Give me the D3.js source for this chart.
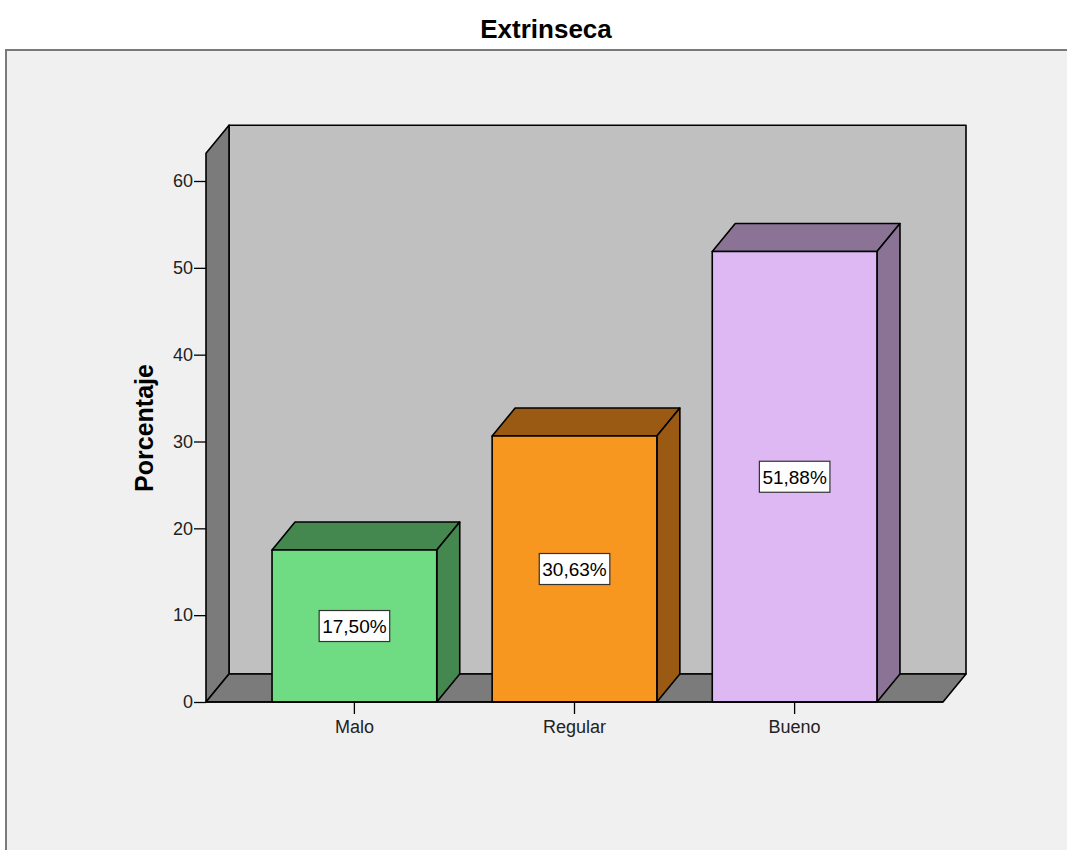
<!DOCTYPE html>
<html>
<head>
<meta charset="utf-8">
<script src="https://cdn.jsdelivr.net/npm/d3@7"></script>
<style>
  html, body { margin: 0; padding: 0; background: #ffffff; }
  svg { display: block; font-family: Arial, "Liberation Sans", sans-serif; }
</style>
</head>
<body>
<svg id="chart" width="1067" height="850"></svg>
<script>
// Chart data
const categories = ["Malo", "Regular", "Bueno"];
const values = [17.50, 30.63, 51.88];
const valueLabels = ["17,50%", "30,63%", "51,88%"];
const yTicks = [0, 10, 20, 30, 40, 50, 60];
const wallTop = 63.2;           // top of the 3D walls in axis units
const frontColors = ["#6fdc84", "#f7971f", "#ddb8f2"];
const sideColors = ["#44874f", "#9b5a13", "#8a7395"];

const FONT = 'Arial, "Liberation Sans", sans-serif';
const svg = d3.select("#chart");

// Outer panel
svg.append("rect").attr("x", 0).attr("y", 0).attr("width", 1067).attr("height", 850).attr("fill", "#ffffff");
svg.append("rect").attr("x", 6).attr("y", 50).attr("width", 1080).attr("height", 820)
  .attr("fill", "#f0f0f0").attr("stroke", "#7a7a7a").attr("stroke-width", 2);

// Title
svg.append("text").attr("x", 546).attr("y", 38).attr("text-anchor", "middle")
  .attr("font-size", 26).attr("font-weight", "bold").attr("fill", "#000").text("Extrinseca");

// Scales
const y = d3.scaleLinear().domain([0, 60]).range([702, 181]);
const x = d3.scaleBand().domain(categories).range([206, 943]).paddingInner(0.2517).paddingOuter(0.30);
const DX = 23, DY = -28;   // depth offset of the 3D projection

const x0 = x.range()[0], x1 = x.range()[1];
const y0 = y(0), yW = y(wallTop);

const line = d3.line();
function poly(points, fill) {
  return svg.append("path").attr("d", line(points) + "Z").attr("fill", fill)
    .attr("stroke", "#000").attr("stroke-width", 1.6).attr("stroke-linejoin", "round");
}

// Back wall
poly([[x0 + DX, y0 + DY], [x1 + DX, y0 + DY], [x1 + DX, yW + DY], [x0 + DX, yW + DY]], "#c0c0c0");
// Left wall
poly([[x0, y0], [x0, yW], [x0 + DX, yW + DY], [x0 + DX, y0 + DY]], "#7b7b7b");
// Floor
poly([[x0, y0], [x1, y0], [x1 + DX, y0 + DY], [x0 + DX, y0 + DY]], "#7b7b7b");

// Y axis ticks and labels
const yAxis = d3.axisLeft(y).tickValues(yTicks).tickSize(12).tickPadding(1).tickFormat(d3.format("d"));
const gY = svg.append("g").attr("transform", `translate(${x0},0)`).call(yAxis);
gY.select(".domain").remove();
gY.selectAll(".tick line").attr("stroke", "#000").attr("stroke-width", 1.3);
gY.selectAll(".tick text").attr("font-size", 18).attr("fill", "#222").attr("font-family", FONT);

// Y axis title
svg.append("text").attr("transform", "translate(153,428) rotate(-90)")
  .attr("text-anchor", "middle").attr("font-size", 25).attr("font-weight", "bold")
  .attr("fill", "#000").text("Porcentaje");

// Bars (3D boxes)
categories.forEach((c, i) => {
  const bx0 = x(c), bx1 = x(c) + x.bandwidth();
  const yt = y(values[i]);
  // top face
  poly([[bx0, yt], [bx1, yt], [bx1 + DX, yt + DY], [bx0 + DX, yt + DY]], sideColors[i]);
  // right side face
  poly([[bx1, y0], [bx1, yt], [bx1 + DX, yt + DY], [bx1 + DX, y0 + DY]], sideColors[i]);
  // front face
  poly([[bx0, y0], [bx1, y0], [bx1, yt], [bx0, yt]], frontColors[i]);

  // value label box
  const cx = (bx0 + bx1) / 2, cy = (yt + y0) / 2;
  const t = svg.append("text").attr("x", cx).attr("y", cy + 7).attr("text-anchor", "middle")
    .attr("font-size", 19).attr("fill", "#000").text(valueLabels[i]);
  const bb = t.node().getBBox();
  svg.insert("rect", () => t.node())
    .attr("x", bb.x - 3).attr("y", cy - 15.5).attr("width", bb.width + 6).attr("height", 31)
    .attr("fill", "#fff").attr("stroke", "#333").attr("stroke-width", 1.2);
});

// Front floor edge on top
svg.append("line").attr("x1", x0).attr("x2", x1).attr("y1", y0).attr("y2", y0)
  .attr("stroke", "#000").attr("stroke-width", 1.6);

// Category ticks and labels
const xAxis = d3.axisBottom(x).tickSize(12).tickPadding(6);
const gX = svg.append("g").attr("transform", `translate(0,${y0})`).call(xAxis);
gX.select(".domain").remove();
gX.selectAll(".tick line").attr("stroke", "#000").attr("stroke-width", 1.3);
gX.selectAll(".tick text").attr("font-size", 18).attr("fill", "#222").attr("font-family", FONT);
</script>
</body>
</html>
